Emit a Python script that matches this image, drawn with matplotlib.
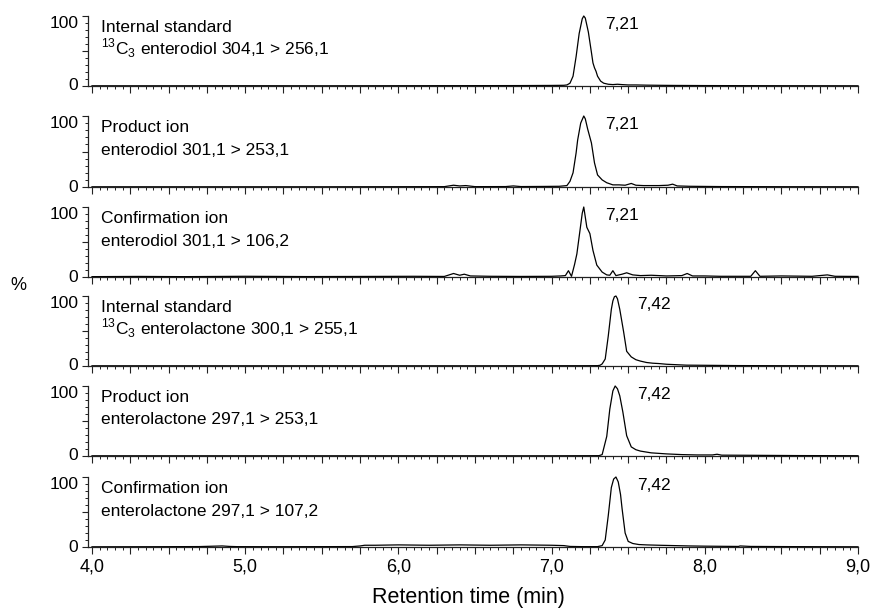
import numpy as np
import matplotlib
matplotlib.use("Agg")
import matplotlib.pyplot as plt
from matplotlib.ticker import MultipleLocator, FixedLocator, FuncFormatter

plt.rcParams['font.family'] = ['Liberation Sans', 'DejaVu Sans']
plt.rcParams['mathtext.fontset'] = 'custom'
plt.rcParams['mathtext.rm'] = 'Liberation Sans'

# Panel labels (two lines each) and peak retention times
line1 = ['Internal standard', 'Product ion', 'Confirmation ion',
         'Internal standard', 'Product ion', 'Confirmation ion']
line2 = [r'$^{13}$C$_3$ enterodiol 304,1 > 256,1',
         'enterodiol 301,1 > 253,1',
         'enterodiol 301,1 > 106,2',
         r'$^{13}$C$_3$ enterolactone 300,1 > 255,1',
         'enterolactone 297,1 > 253,1',
         'enterolactone 297,1 > 107,2']
peak_labels = ['7,21', '7,21', '7,21', '7,42', '7,42', '7,42']
x_ticks = [4.0, 5.0, 6.0, 7.0, 8.0, 9.0]

# Chromatogram traces (time in min, relative intensity in %)
t1 = [4.00, 4.50, 5.00, 5.50, 6.00, 6.50, 6.80, 7.00, 7.08, 7.10, 7.12, 7.14, 7.16, 7.18,
      7.20, 7.21, 7.22, 7.24, 7.26, 7.27, 7.28, 7.29, 7.30, 7.32, 7.34, 7.37, 7.40, 7.43,
      7.46, 7.50, 7.55, 7.62, 7.70, 7.80, 8.00, 8.20, 8.50, 9.00]
y1 = [0.3, 0.3, 0.4, 0.3, 0.4, 0.5, 0.6, 0.8, 1.0, 1.5, 4, 14, 42, 75,
      96, 100, 97, 77, 48, 33, 26, 21, 14, 7, 4, 2.5, 2, 2.5,
      2, 1.5, 1.5, 1.2, 1.0, 0.8, 0.6, 0.5, 0.4, 0.3]

t2 = [4.00, 4.50, 5.00, 5.50, 6.00, 6.30, 6.36, 6.40, 6.44, 6.50, 6.70, 6.75, 6.80, 6.95,
      7.05, 7.10, 7.12, 7.14, 7.16, 7.17, 7.19, 7.21, 7.22, 7.235, 7.26, 7.28, 7.30, 7.33,
      7.36, 7.40, 7.44, 7.48, 7.52, 7.55, 7.60, 7.70, 7.76, 7.79, 7.82, 7.90, 8.10, 8.50, 9.00]
y2 = [0.3, 0.3, 0.3, 0.3, 0.4, 0.5, 2.5, 1.5, 2, 0.5, 0.6, 1.5, 0.6, 0.8,
      1.0, 2, 8, 20, 48, 66, 90, 100, 96, 82, 62, 34, 17, 10,
      6, 3, 3, 2.5, 5, 2.5, 2, 2, 2.5, 4, 1.5, 1, 0.6, 0.4, 0.3]

t3 = [4.00, 4.30, 4.60, 5.00, 5.40, 5.80, 6.10, 6.30, 6.36, 6.40, 6.43, 6.47, 6.60, 6.80,
      7.00, 7.06, 7.09, 7.11, 7.13, 7.15, 7.165, 7.185, 7.20, 7.21, 7.23, 7.25, 7.27, 7.295,
      7.33, 7.36, 7.38, 7.40, 7.42, 7.46, 7.49, 7.53, 7.58, 7.65, 7.75, 7.85, 7.885, 7.92,
      8.00, 8.10, 8.30, 8.33, 8.36, 8.50, 8.70, 8.80, 8.85, 9.00]
y3 = [0.5, 0.8, 0.5, 1.0, 0.6, 0.8, 1.0, 0.8, 5, 2.5, 4, 1.5, 1, 0.8,
      1.0, 1.5, 2, 9, 1, 18, 33, 66, 91, 100, 71, 62, 38, 17,
      7, 3, 2.5, 9, 2, 4, 6, 3, 2, 2.5, 1.5, 2, 5, 1.5,
      1.5, 1, 1, 9, 1, 1.5, 1, 3, 1, 0.8]

t4 = [4.00, 4.50, 5.00, 5.50, 6.00, 6.50, 7.00, 7.20, 7.30, 7.316, 7.33, 7.35, 7.37, 7.39,
      7.40, 7.41, 7.42, 7.43, 7.445, 7.47, 7.49, 7.52, 7.55, 7.58, 7.62, 7.66, 7.70, 7.75,
      7.80, 7.88, 8.00, 8.20, 8.50, 9.00]
y4 = [0.3, 0.3, 0.3, 0.3, 0.3, 0.3, 0.4, 0.4, 0.5, 1, 3, 10, 43, 81,
      93, 99, 100, 96, 81, 49, 21, 13, 9, 7, 5, 4, 3.5, 2.5,
      2, 1.2, 1.0, 0.6, 0.4, 0.3]

t5 = [4.00, 4.50, 5.00, 5.50, 6.00, 6.50, 7.00, 7.20, 7.31, 7.33, 7.36, 7.38, 7.40, 7.415,
      7.43, 7.445, 7.465, 7.49, 7.52, 7.55, 7.58, 7.65, 7.75, 7.85, 7.95, 8.05, 8.08, 8.11,
      8.30, 8.60, 9.00]
y5 = [0.3, 0.3, 0.3, 0.3, 0.3, 0.3, 0.3, 0.4, 0.5, 2, 28, 67, 93, 100,
      96, 86, 63, 29, 13, 9, 7, 4.5, 3, 2, 1.5, 1.5, 2.5, 1.2,
      1, 0.6, 0.4]

t6 = [4.00, 4.40, 4.70, 4.85, 4.90, 4.95, 5.20, 5.50, 5.70, 5.75, 5.78, 5.85, 6.00, 6.20,
      6.40, 6.60, 6.80, 7.00, 7.08, 7.12, 7.20, 7.30, 7.33, 7.35, 7.37, 7.39, 7.405, 7.42,
      7.435, 7.45, 7.46, 7.48, 7.50, 7.53, 7.57, 7.62, 7.70, 7.80, 7.90, 8.00, 8.10, 8.22,
      8.23, 8.30, 8.60, 9.00]
y6 = [0.3, 0.4, 0.6, 1.5, 0.8, 0.5, 0.4, 0.5, 0.6, 1.5, 2.5, 2.5, 3, 2.5,
      3, 2.5, 3, 2.5, 2, 0.8, 0.5, 0.5, 2, 10, 45, 85, 97, 100,
      93, 75, 55, 20, 8, 5, 3.5, 3, 2.5, 2, 1.5, 1.2, 1, 0.8,
      1.5, 0.8, 0.5, 0.3]

traces = [(t1, y1), (t2, y2), (t3, y3), (t4, y4), (t5, y5), (t6, y6)]
peak_text_x = [7.35, 7.35, 7.35, 7.56, 7.56, 7.56]

# Figure geometry in pixels (875 x 613)
W, H = 875, 613
left_px, right_px = 88, 858
panel_top = [16, 116, 207, 296, 386, 477]
panel_bottom = [86, 187, 277, 366, 456, 547]

fig = plt.figure(figsize=(W / 100, H / 100), dpi=100)
axis_col = '#222222'

for i, (t, y) in enumerate(traces):
    top, bot = panel_top[i], panel_bottom[i]
    ax = fig.add_axes([left_px / W, 1 - bot / H, (right_px - left_px) / W, (bot - top) / H])
    ax.plot(t, y, color='black', linewidth=0.9, clip_on=False)
    ax.set_xlim(3.974, 9.0)
    ax.set_ylim(0, 100)

    for s in ['top', 'right']:
        ax.spines[s].set_visible(False)
    for s in ['left', 'bottom']:
        ax.spines[s].set_color(axis_col)
        ax.spines[s].set_linewidth(0.9)

    # x ticks: long every 0.25, short every 0.05
    ax.xaxis.set_major_locator(MultipleLocator(0.25))
    ax.xaxis.set_minor_locator(MultipleLocator(0.05))
    ax.tick_params(axis='x', which='major', length=5, width=0.8, color=axis_col)
    ax.tick_params(axis='x', which='minor', length=2.5, width=0.7, color=axis_col)
    if i == len(traces) - 1:
        ax.xaxis.set_major_formatter(FuncFormatter(
            lambda v, p: f'{v:.1f}'.replace('.', ',') if any(abs(v - k) < 1e-6 for k in x_ticks) else ''))
        ax.tick_params(axis='x', which='major', labelsize=13, pad=3)
    else:
        ax.tick_params(axis='x', labelbottom=False)

    # y ticks: 0 / 50 / 100 with minor every 10
    ax.yaxis.set_major_locator(FixedLocator([0, 50, 100]))
    ax.yaxis.set_minor_locator(MultipleLocator(10))
    ax.set_yticklabels(['0', '', '100'])
    ax.tick_params(axis='y', which='major', length=4, width=0.8, color=axis_col,
                   labelsize=12.5, pad=3)
    ax.tick_params(axis='y', which='minor', length=2, width=0.7, color=axis_col)
    ax.get_yticklabels()[2].set_va('top')
    ax.get_yticklabels()[0].set_va('center')

    # panel description and peak label
    ax.text(4.06, 77, line1[i], fontsize=12.5, va='baseline', ha='left')
    ax.text(4.06, 45, line2[i], fontsize=12.5, va='baseline', ha='left')
    ax.text(peak_text_x[i], 88, peak_labels[i], fontsize=12.5, va='center', ha='left')

fig.text(18 / W, 1 - 285 / H, '%', fontsize=13, ha='center', va='center')
fig.text(468 / W, 1 - 598 / H, 'Retention time (min)', fontsize=15.5, ha='center', va='center')

plt.savefig('out.png', dpi=100)
plt.close()
